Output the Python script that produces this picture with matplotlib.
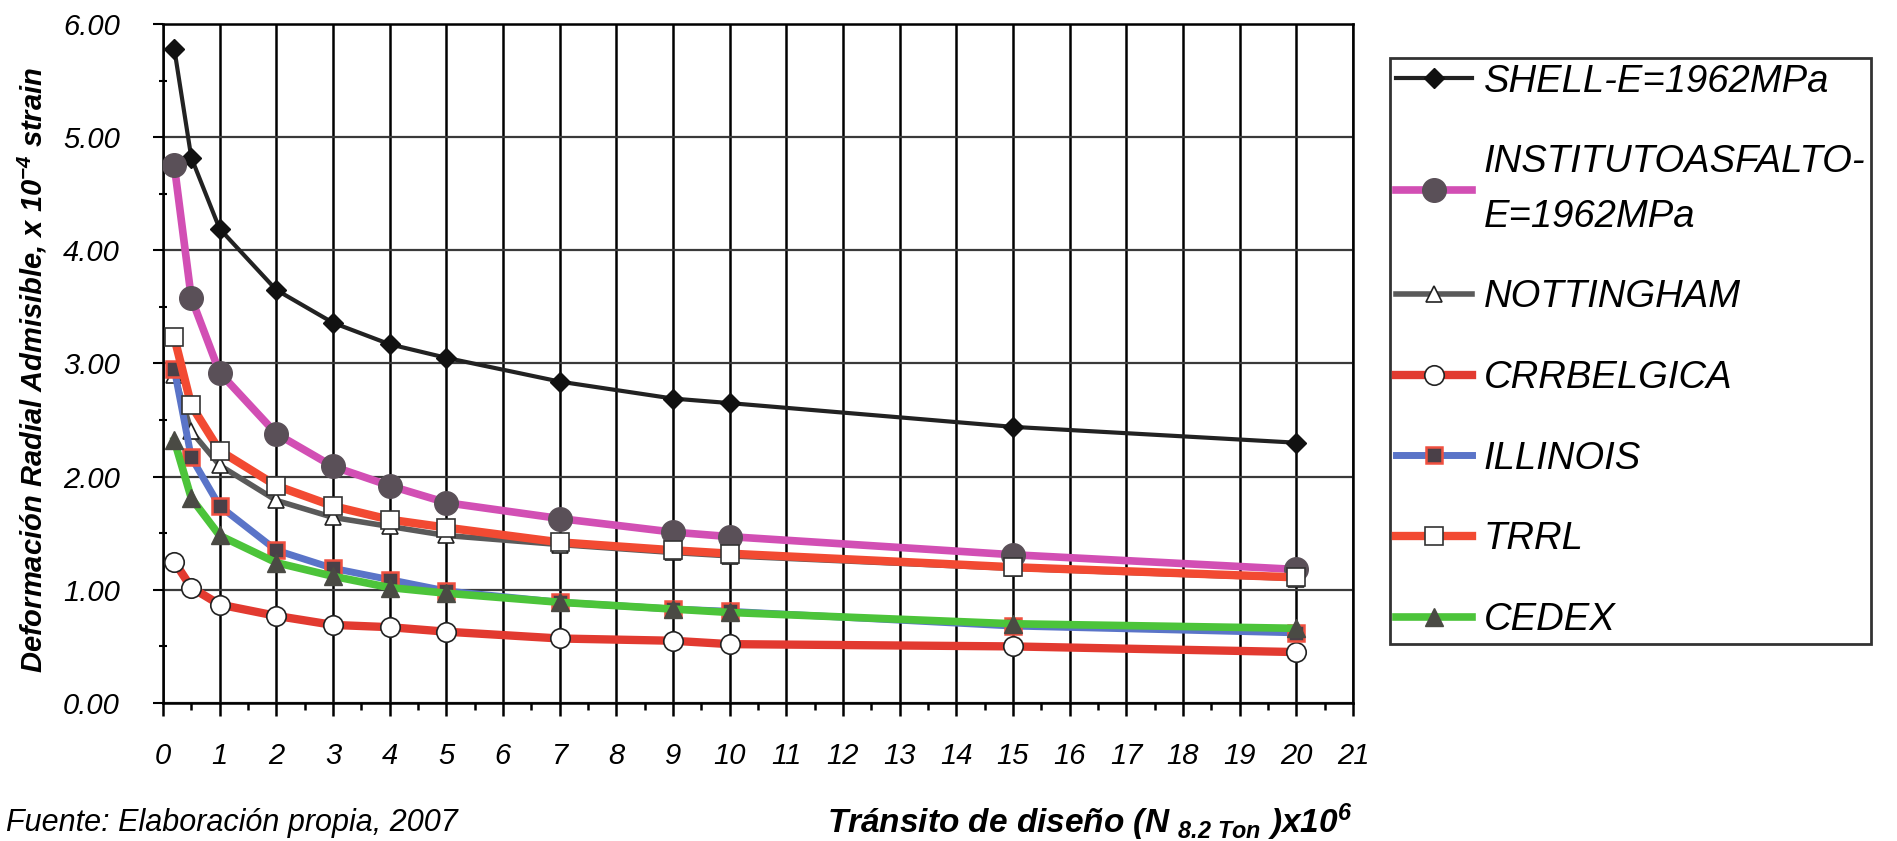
import numpy as np
import matplotlib
matplotlib.use("Agg")
from matplotlib import pyplot as plt
from matplotlib.ticker import MultipleLocator, FormatStrFormatter

plt.rcParams['font.family'] = ['Liberation Sans', 'DejaVu Sans']
plt.rcParams['mathtext.fontset'] = 'custom'
plt.rcParams['mathtext.rm'] = 'Liberation Sans:bold:italic'
plt.rcParams['mathtext.it'] = 'Liberation Sans:bold:italic'
plt.rcParams['mathtext.bf'] = 'Liberation Sans:bold:italic'

# transito de diseno (x10^6)
transito = [0.2, 0.5, 1, 2, 3, 4, 5, 7, 9, 10, 15, 20]

shell = [5.78, 4.82, 4.19, 3.65, 3.36, 3.17, 3.05, 2.84, 2.69, 2.65, 2.44, 2.30]
instituto = [4.75, 3.58, 2.92, 2.38, 2.09, 1.92, 1.77, 1.63, 1.51, 1.47, 1.31, 1.18]
nottingham = [2.90, 2.40, 2.10, 1.79, 1.64, 1.56, 1.48, 1.40, 1.33, 1.30, 1.19, 1.10]
crrbelgica = [1.25, 1.02, 0.87, 0.77, 0.69, 0.67, 0.63, 0.57, 0.55, 0.52, 0.50, 0.45]
illinois = [2.95, 2.17, 1.74, 1.35, 1.19, 1.09, 0.99, 0.89, 0.83, 0.81, 0.68, 0.62]
trrl = [3.23, 2.63, 2.23, 1.92, 1.74, 1.62, 1.55, 1.42, 1.35, 1.32, 1.20, 1.11]
cedex = [2.32, 1.81, 1.48, 1.24, 1.12, 1.02, 0.97, 0.89, 0.83, 0.80, 0.70, 0.66]

fig = plt.figure(figsize=(18.97, 8.41), dpi=100)
ax = fig.add_axes([0.0859, 0.1641, 0.6273, 0.8074])

ax.plot(transito, shell, color='#222222', lw=3, marker='D', ms=10,
        mfc='#111111', mec='#111111', label='SHELL-E=1962MPa', zorder=3)
ax.plot(transito, instituto, color='#d24fb4', lw=5.5, marker='o', ms=17,
        mfc='#5a5058', mec='#5a5058', label='INSTITUTOASFALTO-\nE=1962MPa', zorder=3)
ax.plot(transito, nottingham, color='#5a5a5a', lw=4, marker='^', ms=11,
        mfc='white', mec='#222222', mew=1.2, label='NOTTINGHAM', zorder=3)
ax.plot(transito, crrbelgica, color='#e23a30', lw=6, marker='o', ms=14,
        mfc='white', mec='#222222', mew=1.2, label='CRRBELGICA', zorder=3)
ax.plot(transito, illinois, color='#5a74c8', lw=5, marker='s', ms=12,
        mfc='#4a4048', mec='#f05040', mew=1.8, label='ILLINOIS', zorder=3)
ax.plot(transito, trrl, color='#f24a32', lw=6, marker='s', ms=13,
        mfc='white', mec='#333333', mew=1.2, label='TRRL', zorder=3)
ax.plot(transito, cedex, color='#4cc43a', lw=5.5, marker='^', ms=13,
        mfc='#4a4a44', mec='#4a4a44', label='CEDEX', zorder=3)

ax.set_xlim(0, 21)
ax.set_ylim(0, 6)
ax.xaxis.set_major_locator(MultipleLocator(1))
ax.xaxis.set_minor_locator(MultipleLocator(0.5))
ax.yaxis.set_major_locator(MultipleLocator(1))
ax.yaxis.set_minor_locator(MultipleLocator(0.5))
ax.yaxis.set_major_formatter(FormatStrFormatter('%.2f'))

ax.grid(True, axis='x', which='major', color='black', lw=1.8, zorder=1)
ax.grid(True, axis='y', which='major', color='#3a3a3a', lw=1.6, zorder=1)
ax.set_axisbelow(True)
for s in ax.spines.values():
    s.set_linewidth(1.8)
    s.set_color('black')

ax.tick_params(axis='x', which='major', direction='out', length=9, width=1.8,
               pad=19, labelsize=21)
ax.tick_params(axis='x', which='minor', direction='out', length=5, width=1.8)
ax.tick_params(axis='y', which='major', direction='out', length=7, width=1.5,
               pad=24, labelsize=21)
ax.tick_params(axis='y', which='minor', direction='inout', length=6, width=1.5)
for lab in ax.get_xticklabels() + ax.get_yticklabels():
    lab.set_fontstyle('italic')

fig.text(0.0170, 0.5600, r"Deformación Radial Admisible, x 10$^{\mathrm{-4}}$ strain",
         rotation=90, ha='center', va='center', fontsize=21,
         fontweight='bold', fontstyle='italic')
fig.text(0.7127, 1 - 822 / 841,
         r"Tránsito de diseño (N $_{\mathrm{8.2\ Ton}}$ )x10$^{\mathrm{6}}$",
         ha='right', va='center', fontsize=24, fontweight='bold', fontstyle='italic')
fig.text(0.003, 0.004, "Fuente: Elaboración propia, 2007",
         ha='left', va='bottom', fontsize=22, fontstyle='italic')

leg = fig.legend(loc='upper left', bbox_to_anchor=(0.7327, 0.931),
                 bbox_transform=fig.transFigure, borderaxespad=0,
                 frameon=True, fancybox=False, shadow=False,
                 borderpad=0.15, handlelength=2.0, handletextpad=0.3,
                 labelspacing=1.17, prop={'style': 'italic', 'size': 27.5})
leg.get_frame().set_edgecolor('black')
leg.get_frame().set_linewidth(2)
for t in leg.get_texts():
    t.set_linespacing(1.65)

fig.savefig('out.png', dpi=100)
